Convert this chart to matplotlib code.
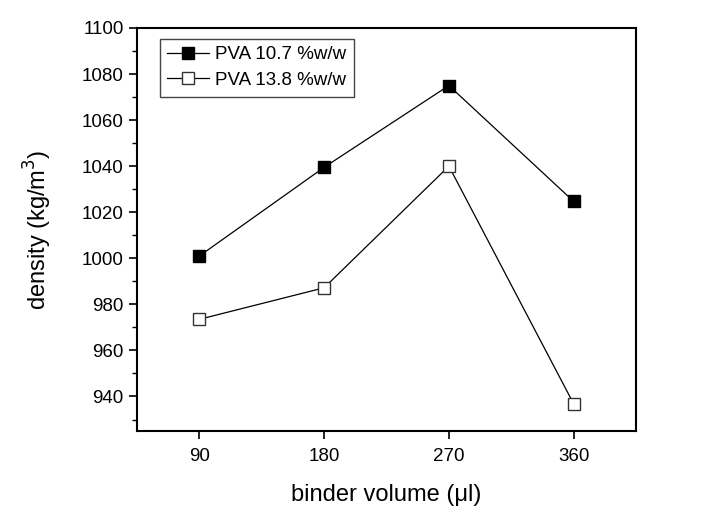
import matplotlib

matplotlib.use("Agg")
import matplotlib.pyplot as plt
from matplotlib.ticker import MultipleLocator

plt.rcParams["font.family"] = ["Liberation Sans", "DejaVu Sans"]

binder_volume = [90, 180, 270, 360]
pva_107 = [1001, 1039.5, 1075, 1024.7]
pva_138 = [973.5, 987.2, 1040, 936.8]
labels = ["PVA 10.7 %w/w", "PVA 13.8 %w/w"]

fig = plt.figure(figsize=(7.23, 5.21), dpi=100)
ax = fig.add_axes([0.1895, 0.1727, 0.6902, 0.7736])

ax.plot(binder_volume, pva_107, color="black", lw=0.9, marker="s", ms=8,
        mfc="black", mec="black", label=labels[0])
ax.plot(binder_volume, pva_138, color="black", lw=0.9, marker="s", ms=8,
        mfc="white", mec="#333333", mew=1.0, label=labels[1])

ax.set_xlim(45, 405)
ax.set_ylim(925, 1100)
ax.set_xticks(binder_volume)
ax.yaxis.set_major_locator(MultipleLocator(20))
ax.yaxis.set_minor_locator(MultipleLocator(10))
ax.tick_params(axis="both", which="major", direction="out", length=6, width=1.2,
               labelsize=13.5)
ax.tick_params(axis="y", which="minor", direction="out", length=3.5, width=1.0)
ax.tick_params(axis="x", pad=6)
for s in ax.spines.values():
    s.set_linewidth(1.5)

ax.set_xlabel("binder volume (\u03bcl)", fontsize=17, labelpad=14)
ax.set_ylabel("density (kg/m$^3$)", fontsize=17, labelpad=20)

leg = ax.legend(loc="upper left", bbox_to_anchor=(0.046, 0.973), fontsize=13.5,
                fancybox=False, edgecolor="#444444", framealpha=1,
                handlelength=2.2, handletextpad=0.35, borderpad=0.4,
                labelspacing=0.45, borderaxespad=0)
leg.get_frame().set_linewidth(1.0)

fig.savefig("out.png", dpi=100, facecolor="white")
